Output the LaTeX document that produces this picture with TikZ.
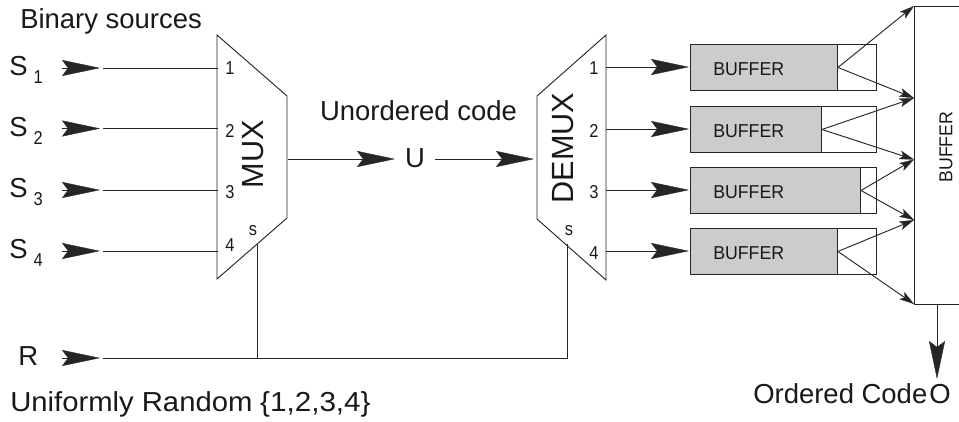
\documentclass[tikz,border=0pt]{standalone}
\usepackage{fontspec}
\setmainfont{Liberation Sans}
\usetikzlibrary{arrows.meta}
\newcommand{\fontbig}{\fontsize{20.6}{24}\selectfont}
\newcommand{\fontmid}{\fontsize{23}{27}\selectfont}
\newcommand{\fontsmall}{\fontsize{14}{16}\selectfont}
\newcommand{\narrowdigit}[1]{\scalebox{0.88}[1]{#1}}
\newcommand{\narrowword}[1]{\scalebox{0.95}[1]{#1}}
\tikzset{
  wire/.style={line width=0.7pt,draw=black!85},
  bighead/.style={wire,-{Stealth[length=28.5pt,width=12pt,inset=4.5pt,line width=0.3pt]}},
  smallhead/.style={wire,-{Stealth[length=11pt,width=6.5pt,inset=2.5pt,line width=0.2pt]}},
  txtbig/.style={inner sep=0pt,font=\fontbig,text=black!90},
  txtmid/.style={inner sep=0pt,font=\fontmid,rotate=90,text=black!90},
  txtsmall/.style={inner sep=0pt,font=\fontsmall,text=black!90},
  outerbox/.style={wire,fill=white,inner sep=0pt,anchor=north west,minimum width=139.5pt,minimum height=34.5pt},
  greybox/.style={wire,fill=black!20,inner sep=0pt,anchor=north west,minimum height=34.5pt},
}
\begin{document}
\begin{tikzpicture}[x=0.75pt,y=-0.75pt]
\useasboundingbox (0,0) rectangle (959,421);
% multiplexers
\draw[wire] (217,35) coordinate (mA) -- (287,96) -- (287,218) -- (217,279) -- cycle;
\draw[wire] (606,35) coordinate (dA) -- (537,96) -- (537,219) -- (606,280) -- cycle;
\node[txtmid] (muxt) at (253,154) {MUX};
\node[txtmid] (demuxt) at (563,148) {DEMUX};
% source labels
\node[txtbig,anchor=base west] (bin) at (20,28) {Binary sources};
\foreach \i/\y/\n in {1/75/68,2/136/128.5,3/197/190,4/258/251}{
  \node[txtbig,anchor=base west] (s\i) at (9,\y) {S\hspace{4.5pt}\raisebox{-6pt}{\fontsmall\narrowdigit{\i}}};
  \coordinate (ha\i) at (62,\n);
  \coordinate (hb\i) at (100,\n);
  \coordinate (la\i) at (103,\n);
  \coordinate (lb\i) at (218,\n);
  \draw[bighead] (ha\i) -- (hb\i);
  \draw[wire] (la\i) -- (lb\i);
}
\foreach \i/\y in {1/68,2/131,3/192,4/245}{\node[txtsmall] (mn\i) at (230,\y) {\narrowdigit{\i}};}
\foreach \i/\y in {1/68,2/131,3/192,4/253}{\node[txtsmall] (dn\i) at (594,\y) {\narrowdigit{\i}};}
\node[txtsmall] (ms) at (253,231) {\narrowdigit{s}};
\node[txtsmall] (ds) at (569,231) {\narrowdigit{s}};
% unordered code
\node[txtbig,anchor=base] (uc) at (418.5,120) {Unordered code};
\node[txtbig,anchor=base] (u) at (415,167) {U};
\coordinate (mo) at (288,159);
\coordinate (ui) at (395,159);
\coordinate (uo) at (435,159);
\coordinate (di) at (534,159);
\draw[bighead] (mo) -- (ui);
\draw[bighead] (uo) -- (di);
% R
\node[txtbig,anchor=base west] (r) at (18,365) {R};
\coordinate (rha) at (62,358);
\coordinate (rhb) at (100,358);
\coordinate (rla) at (103,358);
\coordinate (rj) at (257,358);
\coordinate (rc) at (567,358);
\coordinate (ms1) at (257,244);
\coordinate (ds1) at (567,244);
\draw[bighead] (rha) -- (rhb);
\draw[wire] (rla) -- (rc) -- (ds1);
\draw[wire] (rj) -- (ms1);
\node[txtbig,anchor=base west] (unif) at (10,411) {\scalebox{1.065}[1]{Uniformly Random} \scalebox{1.08}[1]{\{1,2,3,4\}}};
% buffers
\foreach \i/\y/\w/\c in {1/44/147/67,2/106/131/129,3/167/170/190,4/228/147/251}{
  \node[outerbox] (bo\i) at (690,\y) {};
  \node[greybox,minimum width=\w*0.75pt] (bg\i) at (690,\y) {};
  \node[txtsmall,anchor=base west] (bt\i) at (713,\c+8) {\narrowword{BUFFER}};
  \coordinate (do\i) at (606,\c);
  \coordinate (bi\i) at (689,\c);
  \draw[bighead] (do\i) -- (bi\i);
}
% big buffer
\coordinate (t1) at (914,6);
\coordinate (t2) at (914,98);
\coordinate (t3) at (914,159.5);
\coordinate (t4) at (914,220);
\coordinate (t5) at (914,304);
\draw[wire] (959,6) -- (t1) -- (t5) -- (959,304);
\node[txtsmall,rotate=90] (bb) at (946,147) {\narrowword{BUFFER}};
\draw[smallhead] (bg1.east) -- (t1);
\draw[smallhead] (bg1.east) -- (t2);
\draw[smallhead] (bg2.east) -- (t2);
\draw[smallhead] (bg2.east) -- (t3);
\draw[smallhead] (bg3.east) -- (t3);
\draw[smallhead] (bg3.east) -- (t4);
\draw[smallhead] (bg4.east) -- (t4);
\draw[smallhead] (bg4.east) -- (t5);
% output
\coordinate (oa) at (937,304);
\coordinate (ob) at (937,379);
\draw[bighead] (oa) -- (ob);
\node[txtbig,anchor=base west] (oc) at (753,403) {Ordered Code};
\node[txtbig,anchor=base] (o) at (940,403) {O};
\end{tikzpicture}
\end{document}
